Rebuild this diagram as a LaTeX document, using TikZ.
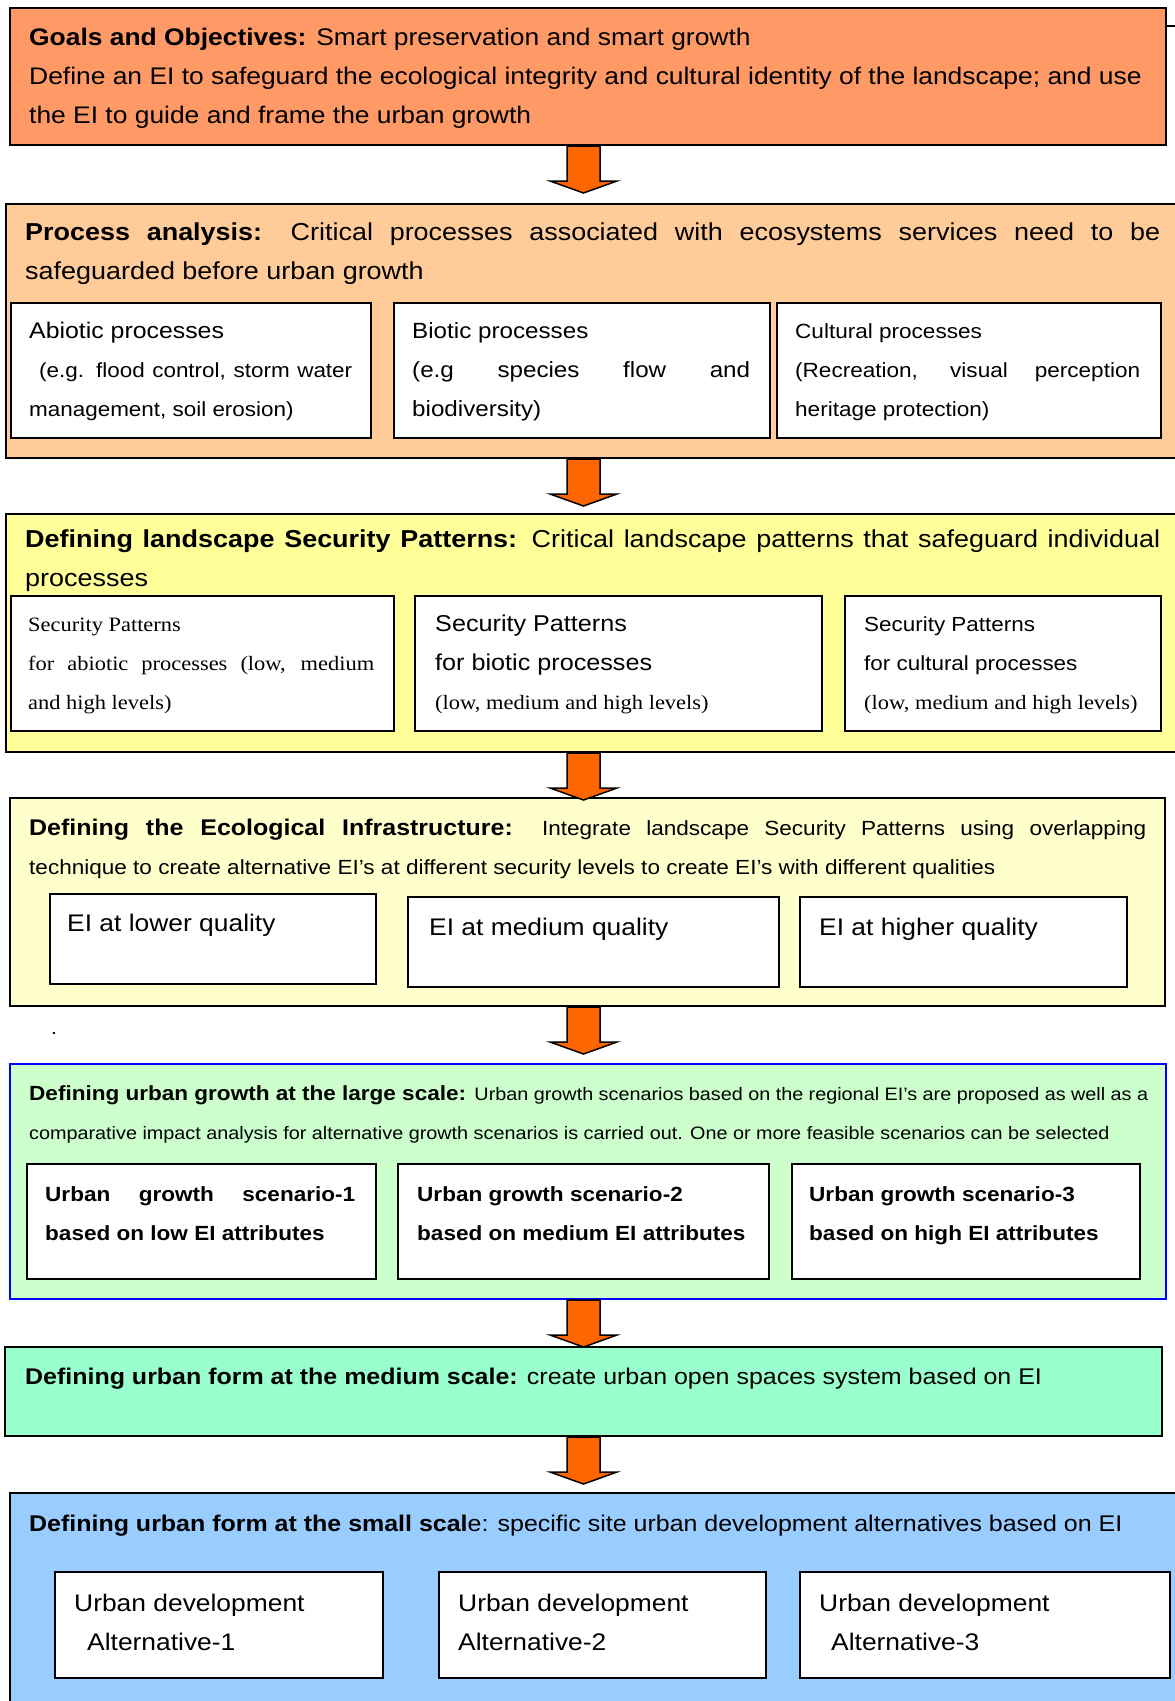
\documentclass[tikz,border=0pt]{standalone}
\usepackage{fontspec}
\setmainfont{Liberation Sans}[FakeStretch=1.1]
\newfontfamily\timesfont{Liberation Serif}[FakeStretch=1.1]
\usetikzlibrary{calc}
\definecolor{goalsorange}{RGB}{255,153,102}
\definecolor{processpeach}{RGB}{255,204,153}
\definecolor{patternyellow}{RGB}{255,255,153}
\definecolor{infrayellow}{RGB}{255,255,204}
\definecolor{growthgreen}{RGB}{204,255,204}
\definecolor{mediummint}{RGB}{153,255,204}
\definecolor{smallblue}{RGB}{153,204,255}
\definecolor{arroworange}{RGB}{255,102,0}
\newcommand{\fs}[1]{\fontsize{#1}{39}\selectfont}
\tolerance=9999
\hyphenpenalty=10000
\exhyphenpenalty=10000
\tikzset{
  stage/.style={draw=black, line width=2pt, anchor=north west, inner sep=0pt},
  sub/.style={draw=black, line width=1.8pt, fill=white, anchor=north west, inner sep=0pt},
  txt/.style={anchor=base west, inner sep=0pt, align=justify},
  line/.style={anchor=base west, inner sep=0pt},
  blockarrow/.style={draw=black, line width=1.5pt, fill=arroworange, line join=miter},
}

\begin{document}
\begin{tikzpicture}[x=1pt, y=-1pt]
		\useasboundingbox (0,0) rectangle (1175,1701);
		\fill[white] (0,0) rectangle (1175,1701);
		\coordinate (axis) at (583.5,0);
		\coordinate (edge) at (1175,26);

		\node[stage, fill=goalsorange, minimum width=1156pt, minimum height=137pt] (goals) at (9,7) {};
		\node[txt, text width=1145pt] (goalstext) at (29,45) {\fs{24}\textbf{Goals and Objectives:} Smart preservation and smart growth\\Define an EI to safeguard the ecological integrity and cultural identity of the landscape; and use\\the EI to guide and frame the urban growth\par};
		\draw[line width=2pt] (goals.east |- edge) -- (edge);

		\node[stage, fill=processpeach, minimum width=1180pt, minimum height=254pt] (process) at (5,203) {};
		\node[txt, text width=1135pt] (processtext) at (25,240) {\fs{24.5}\textbf{Process analysis:} Critical processes associated with ecosystems services need to be\linebreak safeguarded before urban growth\par};
		\node[sub, minimum width=360pt, minimum height=135pt] (abiotic) at (10,302) {};
		\node[sub, minimum width=376pt, minimum height=135pt] (biotic) at (393,302) {};
		\node[sub, minimum width=384pt, minimum height=135pt] (cultural) at (776,302) {};
		\node[txt, text width=323pt] (abiotictext) at (29,338) {\fs{22.6}Abiotic processes\\\fs{20.4}\hspace*{10pt}(e.g. flood control, storm water\linebreak management, soil erosion)\par};
		\node[txt, text width=338pt] (biotictext) at (412,338) {\fs{22}Biotic processes\\(e.g species flow and\linebreak biodiversity)\par};
		\node[txt, text width=345pt] (culturaltext) at (795,338) {\fs{20.5}Cultural processes\\(Recreation, visual perception\linebreak heritage protection)\par};

		\node[stage, fill=patternyellow, minimum width=1180pt, minimum height=238pt] (secpat) at (5,513) {};
		\node[txt, text width=1135pt] (secpattext) at (25,547) {\fs{24.5}\textbf{Defining landscape Security Patterns:} Critical landscape patterns that safeguard individual\linebreak processes\par};
		\node[sub, minimum width=383pt, minimum height=135pt] (spabiotic) at (10,595) {};
		\node[sub, minimum width=407pt, minimum height=135pt] (spbiotic) at (414,595) {};
		\node[sub, minimum width=316pt, minimum height=135pt] (spcultural) at (844,595) {};
		\node[txt, text width=346pt] (spabiotictext) at (28,631) {\timesfont\fs{20.4}Security Patterns\\for abiotic processes (low, medium\linebreak and high levels)\par};
		\node[txt, text width=370pt] (spbiotictext) at (435,631) {\fs{22.9}Security Patterns\\for biotic processes\\\timesfont\fs{20.4}(low, medium and high levels)\par};
		\node[txt, text width=290pt] (spculturaltext) at (864,631) {\fs{20.4}Security Patterns\\for cultural processes\\\timesfont\fs{20.4}(low, medium and high levels)\par};

		\node[stage, fill=infrayellow, minimum width=1155pt, minimum height=208pt] (einfra) at (9,797) {};
		\node[txt, text width=1117pt] (einfratext) at (29,835) {\fs{22.7}\textbf{Defining the Ecological Infrastructure:} \fs{20.5}Integrate landscape Security Patterns using overlapping\linebreak technique to create alternative EI’s at different security levels to create EI’s with different qualities\par};
		\node[sub, minimum width=326pt, minimum height=90pt] (eilow) at (49,893) {};
		\node[sub, minimum width=371pt, minimum height=90pt] (eimed) at (407,896) {};
		\node[sub, minimum width=327pt, minimum height=90pt] (eihigh) at (799,896) {};
		\node[line] (eilowtext) at (67,931) {\fs{24}EI at lower quality};
		\node[line] (eimedtext) at (429,935) {\fs{24}EI at medium quality};
		\node[line] (eihightext) at (819,935) {\fs{24}EI at higher quality};
		\node[line] (dot) at (51,1034) {\fs{19}.};

		\node[stage, draw=blue, fill=growthgreen, minimum width=1156pt, minimum height=235pt] (growth) at (9,1063) {};
		\node[txt, text width=1119pt] (growthtext) at (29,1100) {\fs{20.5}\textbf{Defining urban growth at the large scale:} \fs{18}Urban growth scenarios based on the regional EI’s are proposed as well as a\linebreak comparative impact analysis for alternative growth scenarios is carried out. One or more feasible scenarios can be selected\par};
		\node[sub, minimum width=349pt, minimum height=115pt] (scenone) at (26,1163) {};
		\node[sub, minimum width=371pt, minimum height=115pt] (scentwo) at (397,1163) {};
		\node[sub, minimum width=348pt, minimum height=115pt] (scenthree) at (791,1163) {};
		\node[txt, text width=310pt] (scenonetext) at (45,1201) {\fs{20.5}\bfseries Urban growth scenario-1\linebreak based on low EI attributes\par};
		\node[txt, text width=340pt] (scentwotext) at (417,1201) {\fs{20.5}\bfseries Urban growth scenario-2\\based on medium EI attributes\par};
		\node[txt, text width=320pt] (scenthreetext) at (809,1201) {\fs{20.5}\bfseries Urban growth scenario-3\\based on high EI attributes\par};

		\node[stage, fill=mediummint, minimum width=1157pt, minimum height=89pt] (medium) at (4,1346) {};
		\node[line] (mediumtext) at (25,1384) {\fs{22.7}\textbf{Defining urban form at the medium scale:} create urban open spaces system based on EI};

		\node[stage, fill=smallblue, minimum width=1180pt, minimum height=220pt] (small) at (9,1492) {};
		\node[line] (smalltext) at (29,1531) {\fs{22.7}\textbf{Defining urban form at the small scal}e: specific site urban development alternatives based on EI};
		\node[sub, minimum width=328pt, minimum height=106pt] (altone) at (54,1571) {};
		\node[sub, minimum width=327pt, minimum height=106pt] (alttwo) at (438,1571) {};
		\node[sub, minimum width=370pt, minimum height=106pt] (altthree) at (799,1571) {};
		\node[txt, text width=300pt] (altonetext) at (74,1611) {\fs{24}Urban development\\\hspace*{13pt}Alternative-1\par};
		\node[txt, text width=300pt] (alttwotext) at (458,1611) {\fs{24}Urban development\\Alternative-2\par};
		\node[txt, text width=300pt] (altthreetext) at (819,1611) {\fs{24}Urban development\\\hspace*{12pt}Alternative-3\par};

		\foreach \a in {goals,process,secpat,einfra,growth,medium}
			\draw[blockarrow] (\a.south -| axis) -- ++(-16.5,0) -- ++(0,35) -- ++(-17,0) -- ++(33.5,12) -- ++(33.5,-12) -- ++(-17,0) -- ++(0,-35) -- cycle;
	\end{tikzpicture}
\end{document}
